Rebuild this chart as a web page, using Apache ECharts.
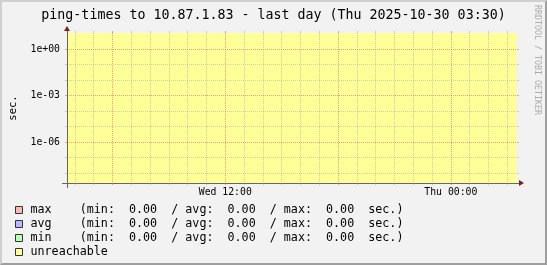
<!DOCTYPE html>
<html><head><meta charset="utf-8">
<script src="https://cdn.jsdelivr.net/npm/echarts@6/dist/echarts.min.js"></script>
<style>
html,body{margin:0;padding:0;background:#F2F2F2;}
#c{position:absolute;left:0;top:0;width:547px;height:265px;}
#f{position:absolute;left:0;top:0;width:547px;height:265px;box-sizing:border-box;
border-left:2px solid #CFCFCF;border-top:2px solid #CFCFCF;border-right:2px solid #9E9E9E;border-bottom:2px solid #9E9E9E;pointer-events:none;}
</style></head><body>
<div id="c"></div><div id="f"></div>
<script>
// ---- data ----
const titleText = 'ping-times to 10.87.1.83 - last day (Thu 2025-10-30 03:30)';
const startHour = 3.58;   // hours since Wed 00:00
const endHour = 27.52;
const minorHours = [4,5,7,8,9,10,11,13,14,15,16,17,19,20,21,22,23,25,26,27];
const majorHours = [6,12,18,24];
const labelHours = [12,24];
const yMinExp = -8.645;   // log10(sec)
const yMaxExp = 1.05;
const minorDecades = [-8,-7,-5,-4,-2,-1];
const majorDecades = [-6,-3,0];
const seriesNames = ['max','avg','min','unreachable'];
const statsMax = [0.00, 0.00, 0.00]; // min, avg, max
const statsAvg = [0.00, 0.00, 0.00];
const statsMin = [0.00, 0.00, 0.00];
const maxValues = [];
const avgValues = [];
const minValues = [];
const unreachableTimes = [3.63, 27.52];
const unreachableFlags = [1, 1];
const watermark = 'RRDTOOL / TOBI OETIKER';

// ---- styles ----
const MONO = 'DejaVu Sans Mono';
const gridMinor = 'rgba(143,143,143,0.4)';
const gridMajor = 'rgba(230,80,80,0.55)';
const axisCol = '#666666';
const arrowCol = '#801F1F';
const colors = {max:'#FFB8B8', avg:'#B8B8FF', min:'#B8FFB8', unreachable:'#FFFF99'};

const fmt = v => v.toFixed(2).padStart(5);
const stats = {max: statsMax, avg: statsAvg, min: statsMin};
function legendText(name) {
  const s = stats[name];
  if (!s) return name;
  return name.padEnd(7) + '(min: ' + fmt(s[0]) + '  / avg: ' + fmt(s[1]) + '  / max: ' + fmt(s[2]) + '  sec.)';
}
function hourLabel(v) {
  const day = v < 24 ? 'Wed' : 'Thu';
  const h = ((v % 24) + 24) % 24;
  return day + ' ' + String(h).padStart(2, '0') + ':00';
}
function expLabel(e) {
  return '1e' + (e < 0 ? '-' : '+') + String(Math.abs(e)).padStart(2, '0');
}

function xAx(extra) {
  return Object.assign({type:'value', min:startHour, max:endHour, position:'bottom', z:3,
    axisLine:{show:false, onZero:false}, axisTick:{show:false}, axisLabel:{show:false}, splitLine:{show:false}}, extra);
}
function yAx(extra) {
  return Object.assign({type:'value', min:yMinExp, max:yMaxExp, position:'left', z:3,
    axisLine:{show:false, onZero:false}, axisTick:{show:false}, axisLabel:{show:false}, splitLine:{show:false}}, extra);
}

const chart = echarts.init(document.getElementById('c'), null, {renderer:'canvas'});
chart.setOption({
  animation: false,
  backgroundColor: '#F2F2F2',
  title: {text: titleText, left: 'center', top: 4,
    textStyle: {fontFamily: MONO, fontSize: 13.3, fontWeight: 'normal', color: '#000'}},
  grid: {left: 67, top: 33, width: 450, height: 150, containLabel: false, outerBoundsMode: 'none'},
  legend: {orient: 'vertical', left: 15, top: 203, padding: 0, itemGap: 0, itemWidth: 7, itemHeight: 7,
    icon: 'rect', selectedMode: false, data: seriesNames,
    itemStyle: {borderColor: '#333', borderWidth: 1},
    formatter: legendText,
    textStyle: {fontFamily: MONO, fontSize: 11.7, lineHeight: 14, color: '#000', padding: [0,0,0,3]}},
  xAxis: [
    xAx({z:2, axisLine:{show:true, onZero:false, lineStyle:{color:arrowCol, width:1},
      symbol:['none','triangle'], symbolSize:[6,5], symbolOffset:[0,4.5]}}),
    xAx({axisLine:{show:true, onZero:false, lineStyle:{color:axisCol, width:1}},
      axisTick:{show:true, customValues:minorHours, length:2, lineStyle:{color:gridMinor}},
      splitLine:{show:true, lineStyle:{color:gridMinor, type:'dotted', width:1}}}),
    xAx({axisTick:{show:true, customValues:majorHours, length:2, lineStyle:{color:gridMajor}},
      splitLine:{show:true, lineStyle:{color:gridMajor, type:'dotted', width:1}},
      axisLabel:{show:true, customValues:labelHours, formatter:hourLabel, margin:4,
        fontFamily:MONO, fontSize:9.8, color:'#000'}}),
    xAx({axisTick:{show:true, customValues:[startHour], length:5, lineStyle:{color:axisCol}}}),
    xAx({position:'top', axisTick:{show:true, customValues:minorHours, length:2, lineStyle:{color:gridMinor}}}),
    xAx({position:'top', axisTick:{show:true, customValues:majorHours, length:2, lineStyle:{color:gridMajor}}}),
    xAx({position:'top', axisTick:{show:true, customValues:[startHour], length:2, lineStyle:{color:axisCol}}})
  ],
  yAxis: [
    yAx({z:2, axisLine:{show:true, onZero:false, lineStyle:{color:arrowCol, width:1},
      symbol:['none','triangle'], symbolSize:[6,5], symbolOffset:[0,4.5]}}),
    yAx({axisLine:{show:true, onZero:false, lineStyle:{color:axisCol, width:1}},
      axisTick:{show:true, customValues:minorDecades, length:2, lineStyle:{color:gridMinor}},
      splitLine:{show:true, lineStyle:{color:gridMinor, type:'dotted', width:1}}}),
    yAx({axisTick:{show:true, customValues:majorDecades, length:2, lineStyle:{color:gridMajor}},
      splitLine:{show:true, lineStyle:{color:gridMajor, type:'dotted', width:1}},
      axisLabel:{show:true, customValues:majorDecades, formatter:expLabel, margin:7,
        fontFamily:MONO, fontSize:9.8, color:'#000'},
      name:'sec.', nameLocation:'middle', nameRotate:90, nameGap:48,
      nameTextStyle:{fontFamily:MONO, fontSize:10.5, color:'#000'}}),
    yAx({axisTick:{show:true, customValues:[yMinExp], length:5, lineStyle:{color:axisCol}}}),
    yAx({position:'right', axisTick:{show:true, customValues:minorDecades, length:2, lineStyle:{color:gridMinor}}}),
    yAx({position:'right', axisTick:{show:true, customValues:majorDecades, length:2, lineStyle:{color:gridMajor}}}),
    yAx({position:'right', axisTick:{show:true, customValues:[yMinExp], length:2, lineStyle:{color:axisCol}}}),
    {type:'value', min:0, max:1, show:false}
  ],
  series: [
    {name:'max', type:'line', xAxisIndex:1, yAxisIndex:1, data:maxValues, color:colors.max, itemStyle:{color:colors.max}, symbol:'none'},
    {name:'avg', type:'line', xAxisIndex:1, yAxisIndex:1, data:avgValues, color:colors.avg, itemStyle:{color:colors.avg}, symbol:'none'},
    {name:'min', type:'line', xAxisIndex:1, yAxisIndex:1, data:minValues, color:colors.min, itemStyle:{color:colors.min}, symbol:'none'},
    {name:'unreachable', type:'line', xAxisIndex:1, yAxisIndex:7, z:1, silent:true,
      data: unreachableTimes.map((t, i) => [t, unreachableFlags[i]]),
      color: colors.unreachable, itemStyle:{color:colors.unreachable},
      symbol:'none', lineStyle:{width:0}, areaStyle:{color:colors.unreachable, opacity:1, origin:'start'}}
  ],
  graphic: [{type:'text', x:537.5, y:5, rotation:-Math.PI/2,
    style:{text:watermark, font:'8.3px "DejaVu Sans Mono"', fill:'#ABABAB', align:'left', verticalAlign:'middle'}}]
});
</script>
</body></html>
